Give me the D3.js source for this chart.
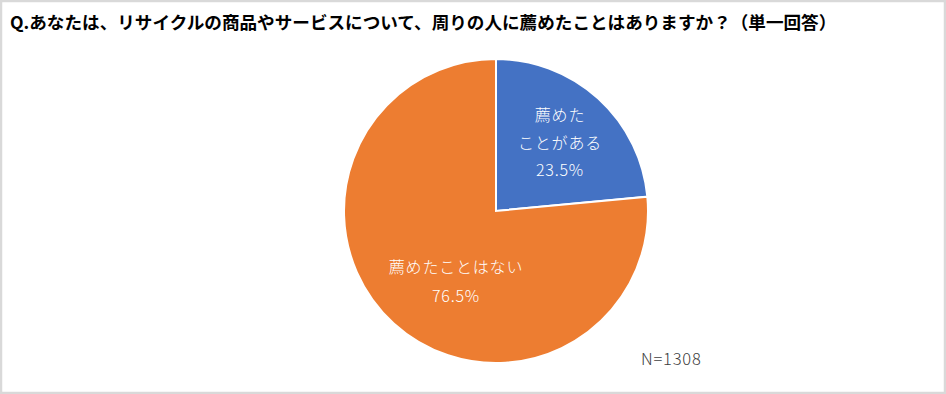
<!DOCTYPE html>
<html>
<head>
<meta charset="utf-8">
<script src="https://cdn.jsdelivr.net/npm/d3@7"></script>
<style>
  html, body { margin: 0; padding: 0; background: #fff; }
  text { font-family: "Noto Sans CJK JP", sans-serif; }
</style>
</head>
<body>
<script>
const categories = ['薦めた\nことがある', '薦めたことはない'];
const shares = [23.5, 76.5];
const colors = ['#4472C4', '#ED7D31'];
const titleText = 'Q.あなたは、リサイクルの商品やサービスについて、周りの人に薦めたことはありますか？（単一回答）';
const noteText = 'N=1308';

const fullWidth = 946;
const fullHeight = 394;
const cx = 496;
const cy = 211;
const radius = 152;

const svg = d3.select('body')
  .append('svg')
  .attr('width', fullWidth)
  .attr('height', fullHeight);

// Frame
svg.append('rect')
  .attr('x', 1)
  .attr('y', 1)
  .attr('width', fullWidth - 2)
  .attr('height', fullHeight - 2)
  .style('fill', '#fff')
  .style('stroke', '#d9d9d9')
  .style('stroke-width', 2.5);

// Title
svg.append('text')
  .attr('x', 10)
  .attr('y', 29)
  .style('font-size', 17.6)
  .style('font-weight', 'bold')
  .style('fill', '#000')
  .text(titleText);

const pie = d3.pie().sort(null).value(d => d);
const arc = d3.arc().innerRadius(0).outerRadius(radius);

const g = svg.append('g')
  .attr('transform', `translate(${cx}, ${cy})`);

const arcs = pie(shares);

g.selectAll('path')
  .data(arcs)
  .enter()
  .append('path')
  .attr('d', arc)
  .style('fill', (d, i) => colors[i])
  .style('stroke', '#fff')
  .style('stroke-width', 2);

// Labels (offsets from centre, first line baseline + line step)
const labelPos = [
  { x: 64, y: -90, step: 27.5 },
  { x: -40, y: 62, step: 29 }
];

g.selectAll('text.label')
  .data(arcs)
  .enter()
  .append('text')
  .attr('class', 'label')
  .attr('text-anchor', 'middle')
  .style('font-size', 16)
  .style('font-weight', 300)
  .style('letter-spacing', '0.8px')
  .style('fill', '#fff')
  .each(function (d, i) {
    const lines = categories[i].split('\n').concat([`${shares[i].toFixed(1)}%`]);
    const p = labelPos[i];
    d3.select(this).selectAll('tspan')
      .data(lines)
      .enter()
      .append('tspan')
      .attr('x', p.x)
      .attr('y', (l, j) => p.y + j * p.step)
      .text(l => l);
  });

// Sample size note
svg.append('text')
  .attr('x', 641)
  .attr('y', 365)
  .style('font-size', 16.5)
  .style('font-weight', 300)
  .style('letter-spacing', '0.8px')
  .style('fill', '#404040')
  .text(noteText);
</script>
</body>
</html>
